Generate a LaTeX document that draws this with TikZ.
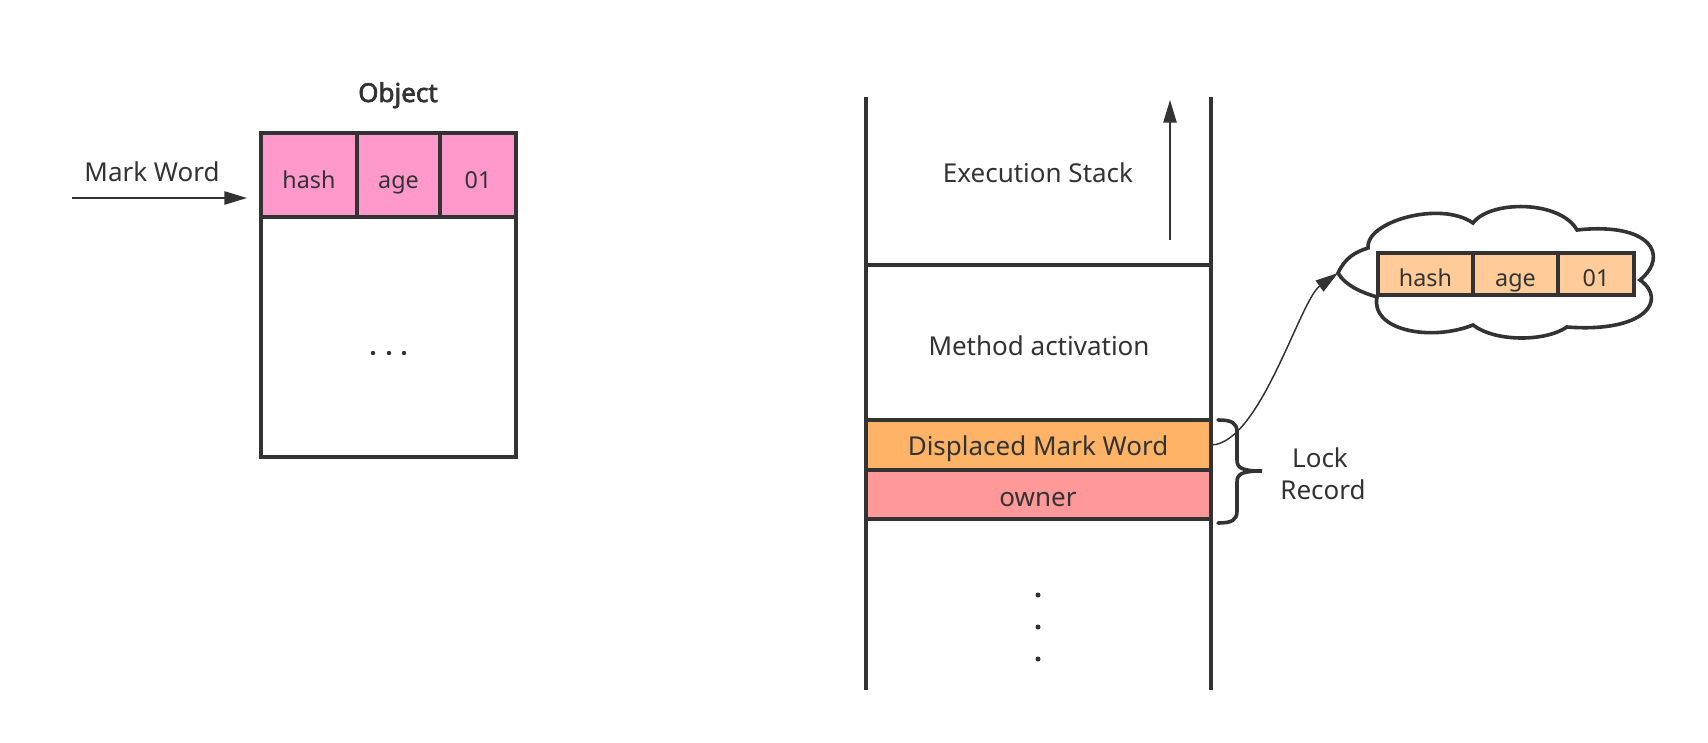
\documentclass[tikz,border=0pt]{standalone}
\usepackage{fontspec}
\setmainfont{Noto Sans}
\newfontfamily\titlefont{Noto Sans}[FakeBold=2.5]
\usetikzlibrary{arrows.meta}
\definecolor{ink}{HTML}{333333}
\definecolor{pinkc}{HTML}{FF99CC}
\definecolor{peach}{HTML}{FFCC99}
\definecolor{orangec}{HTML}{FFB366}
\definecolor{rosec}{HTML}{FF9999}
\begin{document}
\begin{tikzpicture}[x=0.75pt,y=-0.75pt,
  lbl/.style={text=ink,font=\fontsize{19.5}{25}\selectfont,inner sep=0pt,anchor=base},
  celltxt/.style={text=ink,font=\fontsize{17.5}{21}\selectfont,inner sep=0pt,anchor=base},
  boxed/.style={draw=ink,line width=2.7pt,inner sep=0pt,outer sep=0pt,anchor=center},
  heavy/.style={draw=ink,line width=2.7pt},
  thinarrow/.style={draw=ink,line width=1.1pt,-{Triangle[length=17pt,width=10pt]}},
  dotmark/.style={fill=ink,draw=none}
]
\useasboundingbox (0,0) rectangle (1708,742);

% ---------- Object ----------
\node[boxed,fill=white,minimum width=191.25pt,minimum height=243pt] (objbody) at (388.5,295) {};
\node[boxed,fill=pinkc,minimum width=72pt,minimum height=63pt] (ohash) at (309,175) {};
\node[boxed,fill=pinkc,minimum width=62.25pt,minimum height=63pt] (oage) at (398.5,175) {};
\node[boxed,fill=pinkc,minimum width=57pt,minimum height=63pt] (oflag) at (478,175) {};
\node[celltxt] (ohasht) at (309,188) {hash};
\node[celltxt] (oaget) at (398.5,188) {age};
\node[celltxt] (oflagt) at (478,188) {01};
\node[text=ink,font=\fontsize{19.5}{23}\selectfont\titlefont,inner sep=0pt,anchor=base] (objtitle) at (398,102) {Object};
\node[lbl] (marklbl) at (152,181) {Mark Word};
\coordinate (mwstart) at (72,198);
\coordinate (mwend) at (247,198);
\draw[thinarrow] (mwstart) -- (mwend);
\fill[dotmark] (373,353) circle (2.2) (389,353) circle (2.2) (404,353) circle (2.2);

% ---------- Stack ----------
\node[boxed,fill=white,minimum width=258.75pt,minimum height=116.25pt] (method) at (1038.5,342.5) {};
\node[lbl] (methodlbl) at (1039,355) {Method activation};
\node[boxed,fill=orangec,minimum width=258.75pt,minimum height=37.5pt] (disp) at (1038.5,445) {};
\node[lbl] (displbl) at (1038,455) {Displaced Mark Word};
\node[boxed,fill=rosec,minimum width=258.75pt,minimum height=36.75pt] (owner) at (1038.5,494.5) {};
\node[lbl] (ownerlbl) at (1038,506) {owner};
\draw[heavy] (866,97) -- (866,690);
\draw[heavy] (1211,97) -- (1211,690);
\node[lbl] (execlbl) at (1038,182) {Execution Stack};
\coordinate (esA) at (1170,240);
\coordinate (esB) at (1170,100);
\draw[thinarrow] (esA) -- (esB);
\fill[dotmark] (1038,595) circle (2.5) (1038,627) circle (2.5) (1038,659) circle (2.5);

% ---------- Lock record brace ----------
\draw[heavy,line cap=round] (1218,420) .. controls (1232,420) and (1237,423) .. (1237,432) -- (1237,460)
  .. controls (1237,468) and (1242,471) .. (1262,471)
  .. controls (1242,471) and (1237,474) .. (1237,482) -- (1237,511)
  .. controls (1237,520) and (1232,523) .. (1218,523);
\node[lbl] (locklbl) at (1320,467) {Lock};
\node[lbl] (recordlbl) at (1323,499) {Record};

% ---------- Cloud ----------
\coordinate (cloudtip) at (1338,273);
\draw[heavy,fill=white] (cloudtip) .. controls (1345,258) and (1355,252) .. (1368,248)
  .. controls (1365,222) and (1440,200) .. (1473,223)
  .. controls (1490,200) and (1560,200) .. (1577,230)
  .. controls (1650,222) and (1670,255) .. (1640,280)
  .. controls (1668,300) and (1645,333) .. (1567,327)
  .. controls (1545,342) and (1495,342) .. (1473,325)
  .. controls (1430,342) and (1370,330) .. (1377,297)
  .. controls (1360,292) and (1345,285) .. cycle;
\node[boxed,fill=peach,minimum width=71.25pt,minimum height=31.5pt] (chash) at (1425.5,274) {};
\node[boxed,fill=peach,minimum width=63.75pt,minimum height=31.5pt] (cage) at (1515.5,274) {};
\node[boxed,fill=peach,minimum width=57pt,minimum height=31.5pt] (cflag) at (1596,274) {};
\node[celltxt] (chasht) at (1425.5,286) {hash};
\node[celltxt] (caget) at (1515.5,286) {age};
\node[celltxt] (cflagt) at (1596,286) {01};

\draw[thinarrow] (disp.east) .. controls (1260,444) and (1300,300) .. (cloudtip);
\end{tikzpicture}
\end{document}
